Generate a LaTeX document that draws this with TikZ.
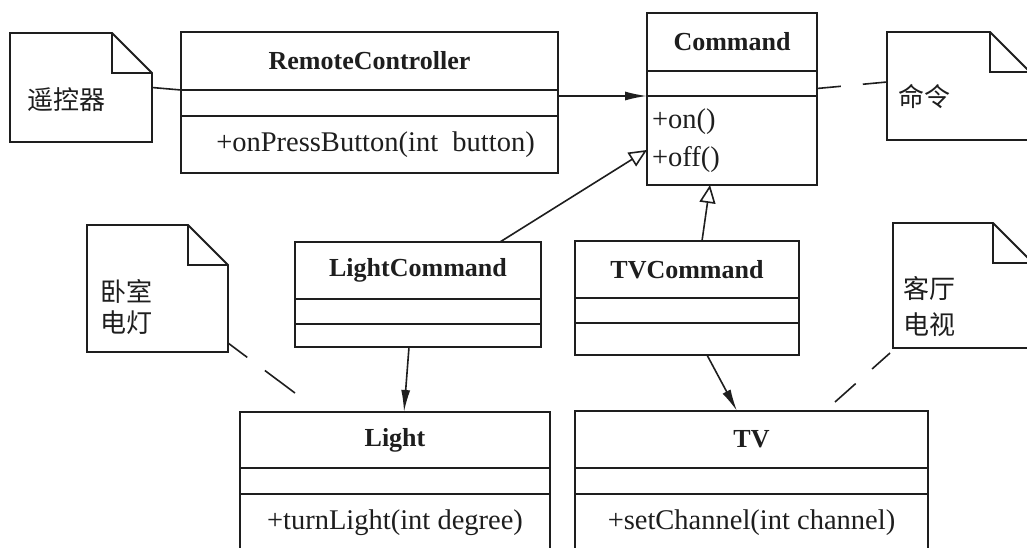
\documentclass[tikz,border=0pt]{standalone}
\usepackage{fontspec}
\setmainfont{Liberation Serif}
\newfontfamily\cjk{Noto Sans CJK SC}
\usepackage{tikz}
\usetikzlibrary{calc,arrows.meta}
\definecolor{ink}{HTML}{1E1E1E}
\tikzset{
  part/.style={draw=ink, line width=1.8pt, inner sep=0pt, outer sep=0pt, anchor=north west, text=ink},
  cname/.style={part, font=\bfseries\fontsize{26}{30}\selectfont},
  cop/.style={part, font=\fontsize{28.5}{38}\selectfont},
  note/.style={inner sep=0pt, outer sep=0pt, anchor=north west},
  notebox/.style={draw=ink, line width=1.8pt, line join=miter},
  ntext/.style={text=ink, font=\cjk\fontsize{26}{31}\selectfont, align=left, anchor=west, inner sep=0pt},
  link/.style={draw=ink, line width=1.6pt},
  dlink/.style={link, dash pattern=on 24pt off 22pt on 100pt off 1pt},
  assoc/.style={link, -{Latex[length=22pt,width=9pt]}},
  gen/.style={link, -{Triangle[open,length=18pt,width=16pt,line width=1.6pt]}},
}

\begin{document}
\begin{tikzpicture}[x=1pt,y=1pt]
  \useasboundingbox (0,0) rectangle (1027,547);
  \clip (0,0) rectangle (1027,547);
  \fill[white] (0,0) rectangle (1027,547);

  % classes
  \node[cname, minimum width=377, minimum height=58] (rc-name) at (181,515) {RemoteController};
  \node[part, minimum width=377, minimum height=26] (rc-attr) at (rc-name.south west) {};
  \node[cop, minimum width=377, minimum height=57] (rc-ops) at (rc-attr.south west) {\hspace{12pt}+onPressButton(int~ button)};

  \node[cname, minimum width=170, minimum height=58] (cmd-name) at (647,534) {Command};
  \node[part, minimum width=170, minimum height=25] (cmd-attr) at (cmd-name.south west) {};
  \node[cop, minimum width=170, minimum height=89, text width=160, inner xsep=5, align=left] (cmd-ops) at (cmd-attr.south west) {+on()\\+off()};

  \node[cname, minimum width=246, minimum height=57] (lc-name) at (295,305) {LightCommand};
  \node[part, minimum width=246, minimum height=25] (lc-attr) at (lc-name.south west) {};
  \node[part, minimum width=246, minimum height=23] (lc-ops) at (lc-attr.south west) {};

  \node[cname, minimum width=224, minimum height=57] (tc-name) at (575,306) {TVCommand};
  \node[part, minimum width=224, minimum height=25] (tc-attr) at (tc-name.south west) {};
  \node[part, minimum width=224, minimum height=32] (tc-ops) at (tc-attr.south west) {};

  \node[cname, minimum width=310, minimum height=56] (lt-name) at (240,135) {Light};
  \node[part, minimum width=310, minimum height=26] (lt-attr) at (lt-name.south west) {};
  \node[cop, minimum width=310, minimum height=58] (lt-ops) at (lt-attr.south west) {+turnLight(int degree)};

  \node[cname, minimum width=353, minimum height=57] (tv-name) at (575,136) {TV};
  \node[part, minimum width=353, minimum height=26] (tv-attr) at (tv-name.south west) {};
  \node[cop, minimum width=353, minimum height=58] (tv-ops) at (tv-attr.south west) {+setChannel(int channel)};

  % notes
  \node[note, minimum width=142, minimum height=109] (n1) at (10,514) {};
  \node[note, minimum width=143, minimum height=108] (n2) at (887,515) {};
  \node[note, minimum width=141, minimum height=127] (n3) at (87,322) {};
  \node[note, minimum width=140, minimum height=125] (n4) at (893,324) {};
  \foreach \n in {n1,n2,n3,n4}{
    \draw[notebox] (\n.south west) -- (\n.north west) -- ([xshift=-40]\n.north east)
      -- ([yshift=-40]\n.north east) -- (\n.south east) -- cycle;
    \draw[notebox] ([xshift=-40]\n.north east) |- ([yshift=-40]\n.north east);
  }
  \node[ntext] (n1-txt) at ([xshift=17,yshift=-12]n1.west) {遥控器};
  \node[ntext] (n2-txt) at ([xshift=11,yshift=-11]n2.west) {命令};
  \node[ntext] (n3-txt) at ([xshift=13,yshift=-18]n3.west) {卧室\\电灯};
  \node[ntext, font=\cjk\fontsize{26}{36}\selectfont] (n4-txt) at ([xshift=10,yshift=-21]n4.west) {客厅\\电视};

  % connectors
  \draw[link] (n1.east) -- (rc-name.south west);
  \draw[assoc] (rc-attr.east |- cmd-ops.north west) -- (cmd-ops.north west);
  \draw[dlink] ([yshift=-5]cmd-attr.east) -- ([yshift=4]n2.west);
  \draw[gen] ([xshift=-41]lc-name.north east) -- ([yshift=-9.5]cmd-ops.west);
  \draw[gen] ([xshift=15]tc-name.north) -- ([xshift=-22]cmd-ops.south);
  \draw[assoc] ([xshift=-9]lc-ops.south) -- ([xshift=9]lt-name.north);
  \draw[assoc] ([xshift=20]tc-ops.south) -- ([xshift=-14.5]tv-name.north);
  \draw[dlink] ([yshift=9]n3.south east) -- ([xshift=55,yshift=19]lt-name.north west);
  \draw[dlink] ([xshift=-3,yshift=-5]n4.south west) -- ([xshift=-93,yshift=9]tv-name.north east);
\end{tikzpicture}
\end{document}
